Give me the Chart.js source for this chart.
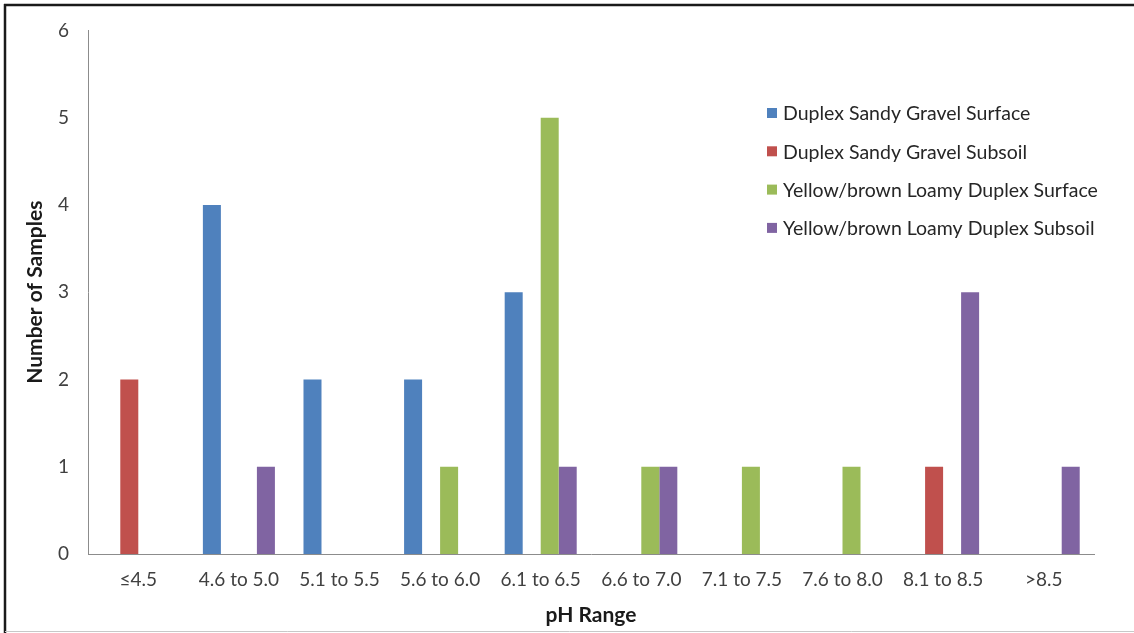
<!DOCTYPE html>
<html>
<head>
<meta charset="utf-8">
<script src="https://cdn.jsdelivr.net/npm/chart.js@4.4.0/dist/chart.umd.min.js"></script>
<style>
  html, body { margin: 0; padding: 0; background: #fff; }
  #wrap { position: relative; width: 1134px; height: 633px; }
  canvas { display: block; }
</style>
</head>
<body>
<div id="wrap"><canvas id="c" width="1134" height="633"></canvas></div>
<script>
const categories = ['≤4.5', '4.6 to 5.0', '5.1 to 5.5', '5.6 to 6.0', '6.1 to 6.5', '6.6 to 7.0', '7.1 to 7.5', '7.6 to 8.0', '8.1 to 8.5', '>8.5'];
const seriesNames = ['Duplex Sandy Gravel Surface', 'Duplex Sandy Gravel Subsoil', 'Yellow/brown Loamy Duplex Surface', 'Yellow/brown Loamy Duplex Subsoil'];
const sandySurface = [0, 4, 2, 2, 3, 0, 0, 0, 0, 0];
const sandySubsoil = [2, 0, 0, 0, 0, 0, 0, 0, 1, 0];
const loamySurface = [0, 0, 0, 1, 5, 1, 1, 1, 0, 0];
const loamySubsoil = [0, 1, 0, 0, 1, 1, 0, 0, 3, 1];
const yTicks = [0, 1, 2, 3, 4, 5, 6];
const colors = ['#4F81BD', '#C0504D', '#9BBB59', '#8064A2'];

const FONT = 'Lato, "Open Sans", sans-serif';

const framePlugin = {
  id: 'frame',
  afterDraw(chart) {
    const ctx = chart.ctx;
    ctx.save();
    ctx.strokeStyle = '#1a1a1a';
    ctx.lineWidth = 2.5;
    ctx.beginPath();
    ctx.moveTo(4, 5); ctx.lineTo(1134, 5);
    ctx.moveTo(5, 4); ctx.lineTo(5, 633);
    ctx.stroke();
    ctx.strokeStyle = '#c8c8c8';
    ctx.lineWidth = 1;
    ctx.beginPath();
    ctx.moveTo(5, 631.5); ctx.lineTo(1134, 631.5);
    ctx.stroke();
    ctx.restore();
  }
};

const legendPlugin = {
  id: 'customLegend',
  afterDraw(chart) {
    const ctx = chart.ctx;
    ctx.save();
    ctx.font = '19.5px ' + FONT;
    ctx.textBaseline = 'middle';
    chart.data.datasets.forEach((ds, i) => {
      const y = 113 + i * 38.3;
      ctx.fillStyle = ds.backgroundColor;
      ctx.fillRect(767, y - 5, 10, 10);
      ctx.fillStyle = '#262626';
      ctx.fillText(ds.label, 783, y + 1);
    });
    ctx.restore();
  }
};

const data = {
  labels: categories,
  datasets: [sandySurface, sandySubsoil, loamySurface, loamySubsoil].map((vals, i) => ({
    label: seriesNames[i],
    data: vals,
    backgroundColor: colors[i],
    borderWidth: 0,
    categoryPercentage: 0.716,
    barPercentage: 1.0
  }))
};

new Chart(document.getElementById('c'), {
  type: 'bar',
  data,
  plugins: [framePlugin, legendPlugin],
  options: {
    responsive: false,
    animation: false,
    devicePixelRatio: 1,
    layout: { padding: { left: 0, top: 30, right: 40, bottom: 0 } },
    plugins: { legend: { display: false }, tooltip: { enabled: false } },
    scales: {
      x: {
        offset: true,
        grid: { display: false, drawTicks: false },
        border: { display: true, color: '#8c8c8c', width: 1 },
        ticks: { color: '#404040', font: { family: FONT, size: 19 }, padding: 14, maxRotation: 0, autoSkip: false },
        title: { display: true, text: 'pH Range', color: '#1a1a1a', font: { family: FONT, size: 21, weight: 'bold' }, padding: { top: 0, bottom: 5 } },
        afterFit(scale) { scale.height = 79; }
      },
      y: {
        min: 0, max: 6,
        afterBuildTicks(scale) { scale.ticks = yTicks.map(v => ({ value: v })); },
        grid: { display: false, drawTicks: false },
        border: { display: true, color: '#8c8c8c', width: 1 },
        ticks: { color: '#404040', font: { family: FONT, size: 19 }, padding: 19 },
        title: { display: true, text: 'Number of Samples', color: '#1a1a1a', font: { family: FONT, size: 21, weight: 'bold' }, padding: { top: 23, bottom: 0 } },
        afterFit(scale) { scale.width = 88; }
      }
    }
  }
});
</script>
</body>
</html>
